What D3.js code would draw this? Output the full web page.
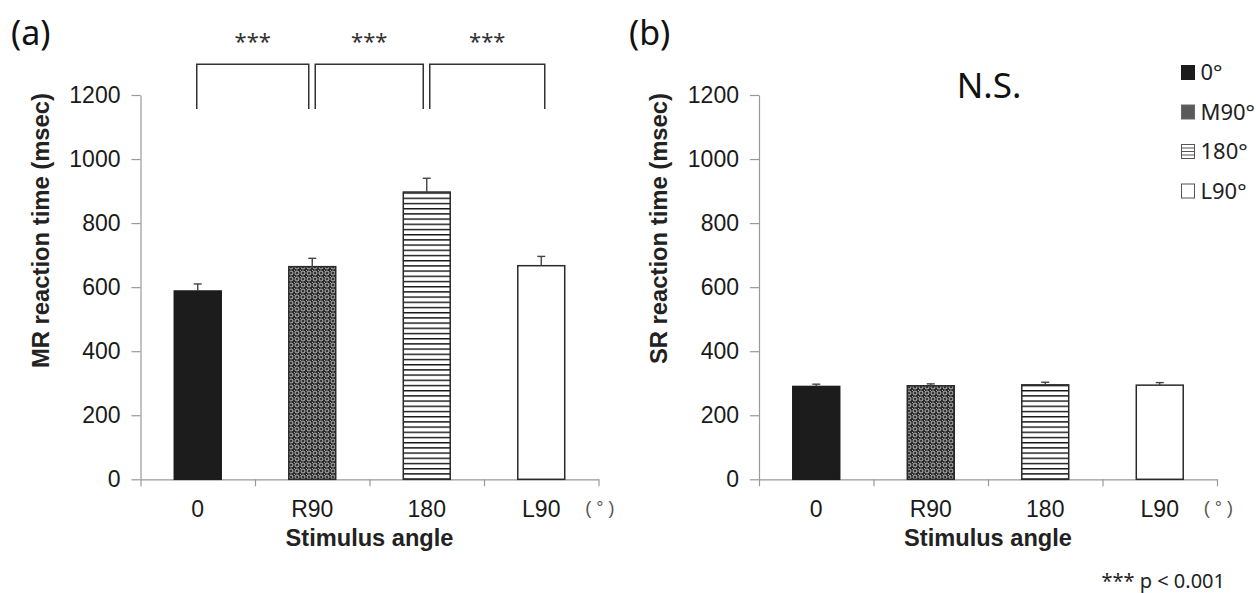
<!DOCTYPE html>
<html>
<head>
<meta charset="utf-8">
<script src="https://cdn.jsdelivr.net/npm/d3@7"></script>
<style>
  body { margin: 0; background: #fff; }
  svg { display: block; }
</style>
</head>
<body>
<svg id="chart" width="1256" height="593"></svg>
<script>
// values (msec)
const angles = ["0", "R90", "180", "L90"];
const mrMeans = [588, 664, 897, 667];
const mrErrors = [22, 26, 43, 29];
const srMeans = [290, 292, 295, 294];
const srErrors = [7, 6, 8, 8];
const yTicks = [0, 200, 400, 600, 800, 1000, 1200];
const sigPairs = [[0, 1], [1, 2], [2, 3]];
const legendLabels = ["0°", "M90°", "180°", "L90°"];

const svg = d3.select("#chart");
const defs = svg.append("defs");

// fills: solid, sphere-like plaid, horizontal lines, white
const plaid = defs.append("pattern").attr("id", "plaid")
  .attr("patternUnits", "userSpaceOnUse").attr("width", 6).attr("height", 6);
plaid.append("rect").attr("width", 6).attr("height", 6).attr("fill", "#2a2a2a");
plaid.append("circle").attr("cx", 3).attr("cy", 3).attr("r", 2)
  .attr("fill", "none").attr("stroke", "#c8c8c8").attr("stroke-width", 0.9);
plaid.append("rect").attr("x", 2.5).attr("y", 2.5).attr("width", 1).attr("height", 1).attr("fill", "#555");
plaid.append("rect").attr("x", 0).attr("y", 0).attr("width", 1).attr("height", 1).attr("fill", "#aaa");

const dots = defs.append("pattern").attr("id", "dots")
  .attr("patternUnits", "userSpaceOnUse").attr("width", 2).attr("height", 2);
dots.append("rect").attr("width", 2).attr("height", 2).attr("fill", "#8a8a8a");
dots.append("rect").attr("width", 1).attr("height", 1).attr("fill", "#2a2a2a");
dots.append("rect").attr("x", 1).attr("y", 1).attr("width", 1).attr("height", 1).attr("fill", "#2a2a2a");

const hlines = defs.append("pattern").attr("id", "hlines")
  .attr("patternUnits", "userSpaceOnUse").attr("width", 10).attr("height", 5.2);
hlines.append("rect").attr("width", 10).attr("height", 5.2).attr("fill", "#fff");
hlines.append("rect").attr("y", 0).attr("width", 10).attr("height", 1.4).attr("fill", "#111");

const fills = ["#1c1c1c", "url(#plaid)", "url(#hlines)", "#fff"];

const y = d3.scaleLinear().domain([0, 1200]).range([479.3, 95]);

function drawPanel(left, right, means, errors, yLabel) {
  const g = svg.append("g");
  const x = d3.scaleBand().domain(angles).range([left, right]).padding(0);
  const xEdge = d3.scaleLinear().domain([0, angles.length]).range([left, right]);
  const barW = x.bandwidth() * 0.41;
  const cx = (d) => x(d) + x.bandwidth() / 2;

  // y axis
  const ya = g.append("g").attr("transform", `translate(${left},0)`)
    .call(d3.axisLeft(y).tickValues(yTicks).tickFormat(d3.format("d"))
      .tickSize(9).tickSizeOuter(0).tickPadding(11));
  ya.select(".domain").attr("stroke", "#999").attr("stroke-width", 1.2);
  ya.selectAll(".tick line").attr("stroke", "#999").attr("stroke-width", 1.2);
  ya.selectAll(".tick text").attr("fill", "#1a1a1a")
    .style("font-family", "'Liberation Sans', Arial, sans-serif").style("font-size", "23px");

  // x axis with ticks between categories
  const xa = g.append("g").attr("transform", `translate(0,${y(0)})`)
    .call(d3.axisBottom(xEdge).tickValues(d3.range(angles.length + 1)).tickFormat("").tickSize(7).tickSizeOuter(0));
  xa.select(".domain").attr("stroke", "#999").attr("stroke-width", 1.2);
  xa.selectAll(".tick line").attr("stroke", "#999").attr("stroke-width", 1.2);

  g.selectAll("text.cat").data(angles).join("text").attr("class", "cat")
    .attr("x", cx).attr("y", 516.5).attr("text-anchor", "middle")
    .attr("fill", "#1a1a1a").style("font-family", "'Liberation Sans', Arial, sans-serif")
    .style("font-size", "23px").text((d) => d);

  g.append("text").attr("x", cx(angles[3]) + 44).attr("y", 514)
    .attr("fill", "#555").style("font-family", "'Liberation Sans', Arial, sans-serif")
    .style("font-size", "18px").text("( ° )");

  // bars
  g.selectAll("rect.bar").data(means).join("rect").attr("class", "bar")
    .attr("x", (d, i) => cx(angles[i]) - barW / 2)
    .attr("y", (d) => y(d))
    .attr("width", barW)
    .attr("height", (d) => y(0) - y(d))
    .attr("fill", (d, i) => fills[i])
    .attr("stroke", (d, i) => (i === 0 ? "#1c1c1c" : "#2a2a2a"))
    .attr("stroke-width", 1.5);

  // error bars
  const eb = g.selectAll("g.err").data(means).join("g").attr("class", "err")
    .attr("stroke", "#444").attr("stroke-width", 1.4);
  eb.append("line")
    .attr("x1", (d, i) => cx(angles[i])).attr("x2", (d, i) => cx(angles[i]))
    .attr("y1", (d) => y(d)).attr("y2", (d, i) => y(d + errors[i]));
  eb.append("line")
    .attr("x1", (d, i) => cx(angles[i]) - 4).attr("x2", (d, i) => cx(angles[i]) + 4)
    .attr("y1", (d, i) => y(d + errors[i])).attr("y2", (d, i) => y(d + errors[i]));

  // axis titles
  g.append("text").attr("x", (left + right) / 2).attr("y", 546).attr("text-anchor", "middle")
    .attr("fill", "#222").style("font-family", "'Liberation Sans', Arial, sans-serif")
    .style("font-size", "23.6px").style("font-weight", "bold").text("Stimulus angle");

  g.append("text").attr("transform", `translate(${left - 100},93) rotate(-90)`)
    .attr("text-anchor", "end").attr("dy", "0.35em")
    .attr("fill", "#222").style("font-family", "'Liberation Sans', Arial, sans-serif")
    .style("font-size", "23.8px").style("font-weight", "bold").text(yLabel);

  return { x, cx };
}

const pa = drawPanel(140.5, 598.5, mrMeans, mrErrors, "MR reaction time (msec)");
drawPanel(759, 1217, srMeans, srErrors, "SR reaction time (msec)");

// significance brackets on panel a
const br = svg.append("g").attr("fill", "none").attr("stroke", "#333").attr("stroke-width", 1.5);
sigPairs.forEach(([a, b]) => {
  const x1 = pa.cx(angles[a]) + (a === 0 ? -1 : 3);
  const x2 = pa.cx(angles[b]) + (b === angles.length - 1 ? 3.5 : -3.5);
  br.append("path").attr("d", `M${x1},109 V64.3 H${x2} V109`);
  svg.append("text").attr("x", (x1 + x2) / 2).attr("y", 49).attr("text-anchor", "middle")
    .attr("fill", "#333").style("font-family", "'Noto Sans', sans-serif")
    .style("font-size", "22px").text("***");
});

// panel letters
svg.append("text").attr("x", 11).attr("y", 45).attr("fill", "#111")
  .style("font-family", "'Noto Sans', sans-serif").style("font-size", "34px").text("(a)");
svg.append("text").attr("x", 629).attr("y", 45).attr("fill", "#111")
  .style("font-family", "'Noto Sans', sans-serif").style("font-size", "34px").text("(b)");

svg.append("text").attr("x", 989).attr("y", 98).attr("text-anchor", "middle").attr("fill", "#111")
  .style("font-family", "'Noto Sans', sans-serif").style("font-size", "35px").text("N.S.");

// legend
const legendFills = ["#1c1c1c", "url(#dots)", "#fff", "#fff"];
const lg = svg.append("g").selectAll("g").data(legendLabels).join("g")
  .attr("transform", (d, i) => `translate(1181,${80 + i * 39.5})`);
lg.append("rect").attr("x", 0.5).attr("y", -14.5).attr("width", 13).attr("height", 14)
  .attr("fill", (d, i) => legendFills[i])
  .attr("stroke", (d, i) => (i === 0 ? "#1c1c1c" : i === 1 ? "#666" : "#555"))
  .attr("stroke-width", 1);
lg.filter((d, i) => i === 2).selectAll("line").data([-11, -7.5, -4]).join("line")
  .attr("x1", 0.5).attr("x2", 13.5).attr("y1", (d) => d).attr("y2", (d) => d)
  .attr("stroke", "#555").attr("stroke-width", 1);
lg.append("text").attr("x", 19.5).attr("y", 0).attr("fill", "#222")
  .style("font-family", "'Noto Sans', sans-serif").style("font-size", "22px").text((d) => d);

svg.append("text").attr("x", 1225).attr("y", 588).attr("text-anchor", "end").attr("fill", "#222")
  .style("font-family", "'Noto Sans', sans-serif").style("font-size", "20px").text("*** p < 0.001");
</script>
</body>
</html>
